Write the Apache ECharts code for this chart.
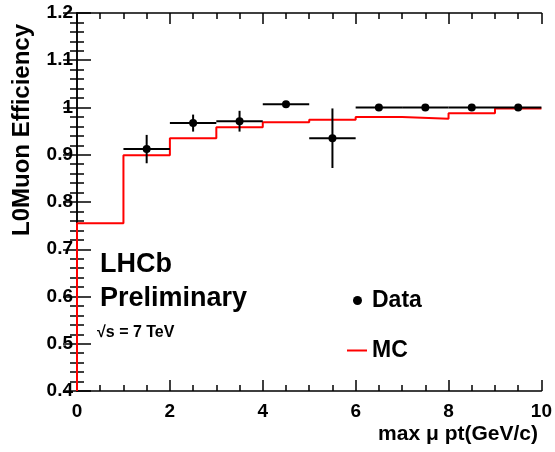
<!DOCTYPE html>
<html>
<head>
<meta charset="utf-8">
<script src="https://cdn.jsdelivr.net/npm/echarts@6/dist/echarts.min.js"></script>
<style>html,body{margin:0;padding:0;background:#fff;}#c{width:555px;height:452px;}</style>
</head>
<body>
<div id="c"></div>
<script>
// ---- data ----
const dataX = [1.5, 2.5, 3.5, 4.5, 5.5, 6.5, 7.5, 8.5, 9.5];
const dataY = [0.912, 0.967, 0.971, 1.007, 0.935, 1.0, 1.0, 1.0, 1.0];
const dataYErr = [0.030, 0.018, 0.022, 0.004, 0.063, 0.003, 0.002, 0.002, 0.002];
const dataXErr = [0.5, 0.5, 0.5, 0.5, 0.5, 0.5, 0.5, 0.5, 0.5];
const mcEdges = [0, 1, 2, 3, 4, 5, 6, 7, 8, 9, 10];
const mcValues = [0.755, 0.899, 0.935, 0.958, 0.969, 0.974, 0.980, 0.976, 0.988, 0.998];
const yMin = 0.4;

const FONT = '"Liberation Sans", Arial, Helvetica, sans-serif';

// build step line points
const mcPoints = [[mcEdges[0], yMin]];
for (let i = 0; i < mcValues.length; i++) mcPoints.push([mcEdges[i], mcValues[i]]);
mcPoints.push([mcEdges[mcEdges.length - 1], mcValues[mcValues.length - 1]]);

const dataPts = dataX.map((x, i) => [x, dataY[i], dataYErr[i], dataXErr[i]]);

const chart = echarts.init(document.getElementById('c'));
const axisLine = {show: true, lineStyle: {color: '#000', width: 1.5}};
chart.setOption({
  animation: false,
  backgroundColor: '#fff',
  grid: {left: 77, right: 10, top: 13, bottom: 61, containLabel: false},
  xAxis: [{
    type: 'value', min: 0, max: 10, interval: 2, position: 'bottom',
    axisLine: axisLine,
    axisTick: {show: true, inside: true, length: 11, lineStyle: {color: '#000', width: 1.5}},
    minorTick: {show: true, splitNumber: 4, length: 6, lineStyle: {color: '#000', width: 1.5}},
    splitLine: {show: false},
    axisLabel: {color: '#000', fontFamily: FONT, fontWeight: 'bold', fontSize: 19, margin: 11}
  }, {
    type: 'value', min: 0, max: 10, interval: 2, position: 'top',
    axisLine: axisLine,
    axisTick: {show: true, inside: true, length: 11, lineStyle: {color: '#000', width: 1.5}},
    minorTick: {show: true, splitNumber: 4, length: 6, lineStyle: {color: '#000', width: 1.5}},
    splitLine: {show: false},
    axisLabel: {show: false}
  }],
  yAxis: [{
    type: 'value', min: 0.4, max: 1.2, interval: 0.1, position: 'left',
    axisLine: axisLine,
    axisTick: {show: true, inside: true, length: 14, lineStyle: {color: '#000', width: 1.5}},
    minorTick: {show: true, splitNumber: 5, length: 7, lineStyle: {color: '#000', width: 1.5}},
    splitLine: {show: false},
    axisLabel: {color: '#000', fontFamily: FONT, fontWeight: 'bold', fontSize: 19, margin: 4,
      formatter: v => { const r = Math.round(v * 10) / 10; return r === 1 ? '1' : r.toFixed(1); }}
  }, {
    type: 'value', min: 0.4, max: 1.2, interval: 0.1, position: 'right',
    axisLine: axisLine,
    axisTick: {show: true, inside: true, length: 14, lineStyle: {color: '#000', width: 1.5}},
    minorTick: {show: true, splitNumber: 5, length: 7, lineStyle: {color: '#000', width: 1.5}},
    splitLine: {show: false},
    axisLabel: {show: false}
  }],
  legend: [{
    data: [{name: 'Data', icon: 'circle'}],
    left: 353, top: 289, padding: 0, itemWidth: 9, itemHeight: 9,
    textStyle: {color: '#000', fontFamily: FONT, fontWeight: 'bold', fontSize: 23, padding: [0, 0, 0, 5]}
  }, {
    data: [{name: 'MC', icon: 'rect'}],
    left: 347, top: 339, padding: 0, itemWidth: 20, itemHeight: 2,
    textStyle: {color: '#000', fontFamily: FONT, fontWeight: 'bold', fontSize: 23}
  }],
  graphic: [
    {type: 'text', left: 100, top: 251, style: {text: 'LHCb', font: 'bold 27px ' + FONT, fill: '#000'}},
    {type: 'text', left: 100, top: 285, style: {text: 'Preliminary', font: 'bold 27px ' + FONT, fill: '#000'}},
    {type: 'text', left: 97, top: 325, style: {text: '\u221As = 7 TeV', font: 'bold 16px ' + FONT, fill: '#000'}},
    {type: 'text', right: 17, top: 424, style: {text: 'max \u03BC pt(GeV/c)', font: 'bold 21px ' + FONT, fill: '#000'}},
    {type: 'text', x: 22, y: 130, rotation: Math.PI / 2,
      style: {text: 'L0Muon Efficiency', font: 'bold 24px ' + FONT, fill: '#000', textAlign: 'center', textVerticalAlign: 'middle'}}
  ],
  series: [{
    name: 'MC', type: 'line', step: 'end', data: mcPoints, showSymbol: false, symbol: 'none',
    lineStyle: {color: '#ff0000', width: 2}, itemStyle: {color: '#ff0000'}, z: 2
  }, {
    name: 'Data', type: 'custom', data: dataPts, itemStyle: {color: '#000'}, z: 3,
    renderItem: function (params, api) {
      const x = api.value(0), y = api.value(1), ey = api.value(2), ex = api.value(3);
      const c = api.coord([x, y]);
      const l = api.coord([x - ex, y]);
      const r = api.coord([x + ex, y]);
      const t = api.coord([x, y + ey]);
      const b = api.coord([x, y - ey]);
      const ls = {stroke: '#000', lineWidth: 2};
      return {type: 'group', children: [
        {type: 'line', shape: {x1: l[0], y1: l[1], x2: r[0], y2: r[1]}, style: ls},
        {type: 'line', shape: {x1: t[0], y1: t[1], x2: b[0], y2: b[1]}, style: ls},
        {type: 'circle', shape: {cx: c[0], cy: c[1], r: 4}, style: {fill: '#000'}}
      ]};
    }
  }]
});
</script>
</body>
</html>
